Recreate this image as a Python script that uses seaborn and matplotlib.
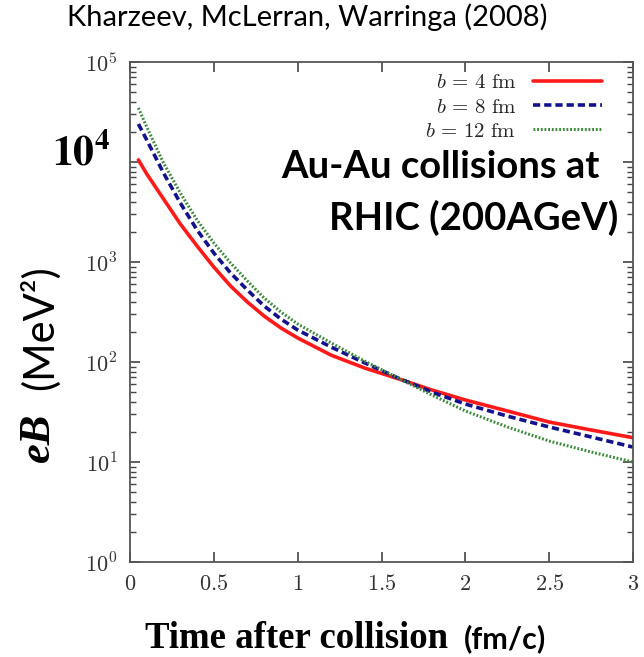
import numpy as np
import pandas as pd
import seaborn as sns
import matplotlib
matplotlib.use("Agg")
import matplotlib.pyplot as plt
from matplotlib.ticker import LogLocator, NullFormatter

# ---- data ----
time_fm = [0.05, 0.1, 0.2, 0.3, 0.4, 0.5, 0.6, 0.7, 0.8, 0.9, 1.0,
           1.2, 1.4, 1.6, 1.8, 2.0, 2.25, 2.5, 2.75, 3.0]
eB_b4 = [10500, 7590, 4270, 2400, 1445, 890, 575, 398, 288, 219, 174,
         117, 87, 68, 52.5, 41.7, 32.4, 25.1, 20.9, 17.5]
eB_b8 = [24000, 16600, 7760, 3890, 2090, 1230, 776, 525, 363, 269, 209,
         141, 98, 69, 50, 38, 28.8, 22.4, 17.8, 14.1]
eB_b12 = [34700, 22400, 9770, 4900, 2630, 1550, 977, 646, 437, 316, 240,
          155, 102, 69, 46.8, 32.4, 22.4, 16.2, 12.6, 10.0]
series_labels = [r"$b\,=\,4\ \mathrm{fm}$", r"$b\,=\,8\ \mathrm{fm}$", r"$b\,=\,12\ \mathrm{fm}$"]
xtick_values = [0, 0.5, 1, 1.5, 2, 2.5, 3]
xtick_labels = ["0", "0.5", "1", "1.5", "2", "2.5", "3"]
ytick_exponents = [0, 1, 2, 3, 4, 5]

sns.set_theme(style="ticks")
plt.rcParams["mathtext.fontset"] = "cm"
plt.rcParams["font.family"] = ["DejaVu Sans"]

W, H = 644, 657
fig = plt.figure(figsize=(W / 100, H / 100), dpi=100)
ax = fig.add_axes([130 / W, 95 / H, 503 / W, 500 / H])

def fx(x):
    return x / W

def fy(y):
    return 1 - y / H

styles = [
    dict(color="#ff1a1a", linestyle="-", linewidth=2.6),
    dict(color="#12128c", linestyle=(0, (2.0, 1.1)), linewidth=2.6),
    dict(color="#3a8a3a", linestyle=(0, (0.6, 0.6)), linewidth=2.2),
]
for vals, lab, st in zip([eB_b4, eB_b8, eB_b12], series_labels, styles):
    df = pd.DataFrame({"t": time_fm, "eB": vals})
    sns.lineplot(data=df, x="t", y="eB", ax=ax, label=lab, **st)

ax.set_yscale("log")
ax.set_xlim(0, 3)
ax.set_ylim(1, 1e5)
ax.set_xlabel("")
ax.set_ylabel("")

ax.set_xticks(xtick_values, labels=[f"${s}$" for s in xtick_labels])
ylabs = [f"$10^{{{e}}}$" if e != 4 else "" for e in ytick_exponents]
ax.set_yticks([10.0 ** e for e in ytick_exponents], labels=ylabs)
ax.yaxis.set_minor_locator(LogLocator(base=10, subs=np.arange(2, 10), numticks=20))
ax.yaxis.set_minor_formatter(NullFormatter())

ax.tick_params(which="both", direction="in", top=True, right=True,
               color="#444444", labelcolor="#333333", labelsize=16)
ax.tick_params(which="major", length=7, width=1.2, pad=9)
ax.tick_params(which="minor", length=4, width=1.0)
for sp in ax.spines.values():
    sp.set_color("#555555")
    sp.set_linewidth(1.3)

leg = ax.legend(loc="upper right", frameon=False, markerfirst=False,
                fontsize=15, handlelength=3.3, handletextpad=0.8,
                labelspacing=0.2, borderaxespad=0.0, borderpad=0.4,
                bbox_to_anchor=(0.954, 0.996))

# ---- annotations ----
fig.text(fx(67), fy(26), "Kharzeev, McLerran, Warringa (2008)", ha="left",
         va="baseline", fontsize=21, family="Lato", color="black")
fig.text(fx(110), fy(153), r"$\mathbf{10^{4}}$", ha="right", va="center",
         fontsize=30, math_fontfamily="stix", color="black")
fig.text(fx(440), fy(178), "Au-Au collisions at", ha="center", va="baseline",
         fontsize=27.5, family="Lato", weight="bold", color="black")
fig.text(fx(474), fy(230), "RHIC (200AGeV)", ha="center", va="baseline",
         fontsize=27.5, family="Lato", weight="bold", color="black")
fig.text(fx(145), fy(648), "Time after collision", ha="left", va="baseline",
         fontsize=26.5, family="Liberation Serif", weight="bold", color="black")
fig.text(fx(464), fy(648), "(fm/c)", ha="left", va="baseline",
         fontsize=22, family="Lato", weight="bold", color="black")
fig.text(fx(38), fy(462), "eB", ha="center", va="bottom", rotation=90,
         fontsize=32, family="Liberation Serif", weight="bold", style="italic",
         color="black")
fig.text(fx(40), fy(390), "(MeV²)", ha="center", va="bottom", rotation=90,
         fontsize=30, family="Lato", color="black")

fig.savefig("out.png", dpi=100)
